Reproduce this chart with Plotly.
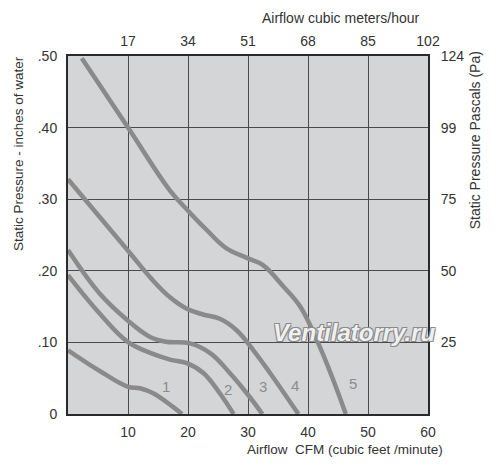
import plotly.graph_objects as go

# fan curves: airflow in CFM vs static pressure in inches of water
cfm_1 = [0, 5.3, 10, 12, 14.2, 17.5, 19]
sp_1 = [0.089, 0.060, 0.038, 0.036, 0.029, 0.010, 0]

cfm_2 = [0, 5.2, 9.9, 13.5, 17, 19.8, 22.6, 25.3, 27.6]
sp_2 = [0.194, 0.141, 0.101, 0.086, 0.076, 0.071, 0.057, 0.029, 0]

cfm_3 = [0, 5.2, 9.9, 13.6, 16.3, 20.2, 23.7, 27, 29.8, 32.4]
sp_3 = [0.229, 0.169, 0.131, 0.108, 0.101, 0.099, 0.085, 0.057, 0.029, 0]

cfm_4 = [0, 9.9, 14, 17, 19.8, 22.5, 25.3, 28.1, 30.9, 33.7, 38.4]
sp_4 = [0.328, 0.229, 0.188, 0.163, 0.147, 0.139, 0.133, 0.117, 0.089, 0.057, 0]

cfm_5 = [2.3, 10, 17, 20, 23, 26.3, 29.8, 32.5, 35.9, 38.7, 41.7, 44, 46.3]
sp_5 = [0.497, 0.400, 0.312, 0.284, 0.258, 0.232, 0.218, 0.208, 0.178, 0.150, 0.099, 0.052, 0]

curve_names = ["1", "2", "3", "4", "5"]
label_x = [16.3, 26.7, 32.5, 37.8, 47.5]
label_y = [0.038, 0.034, 0.038, 0.040, 0.042]

cfm_ticks = [10, 20, 30, 40, 50, 60]
m3h_labels = ["17", "34", "51", "68", "85", "102"]
inch_ticks = [0, 0.1, 0.2, 0.3, 0.4, 0.5]
inch_labels = ["0", ".10", ".20", ".30", ".40", ".50"]
pa_ticks = [0.1, 0.2, 0.3, 0.4, 0.5]
pa_labels = ["25", "50", "75", "99", "124"]

curve_color = "#8a8a8a"
txt = "#333333"
font = "Liberation Sans"

fig = go.Figure()

curves = [(cfm_1, sp_1), (cfm_2, sp_2), (cfm_3, sp_3), (cfm_4, sp_4), (cfm_5, sp_5)]
for (xs, ys), name in zip(curves, curve_names):
    fig.add_trace(go.Scatter(
        x=xs, y=ys, mode="lines", name=name,
        line=dict(color=curve_color, width=4.5, shape="spline", smoothing=1.1),
        hoverinfo="skip",
    ))

# invisible trace so the top and right axes get drawn
fig.add_trace(go.Scatter(x=[0, 60], y=[0, 0.5], xaxis="x2", yaxis="y2",
                         mode="markers", marker=dict(opacity=0), hoverinfo="skip"))

axis_common = dict(showline=True, linecolor="#2a2a2a", linewidth=2, ticks="",
                   tickfont=dict(family=font, size=14, color=txt), zeroline=False)

# the page body has an 8px margin, so the figure is 8px smaller than the window
fig.update_layout(
    width=492, height=461,
    margin=dict(l=60, r=72, t=48, b=55),
    paper_bgcolor="white",
    plot_bgcolor="#d4d5d7",
    showlegend=False,
    xaxis=dict(range=[0, 60], tickvals=cfm_ticks, showgrid=True,
               gridcolor="#4a4a4a", gridwidth=1, mirror=True,
               ticklabelstandoff=4, **axis_common),
    yaxis=dict(range=[0, 0.5], tickvals=inch_ticks, ticktext=inch_labels,
               showgrid=True, gridcolor="#4a4a4a", gridwidth=1, mirror=True,
               ticklabelstandoff=6, **axis_common),
    xaxis2=dict(range=[0, 60], tickvals=cfm_ticks, ticktext=m3h_labels,
                overlaying="x", side="top", showgrid=False,
                ticklabelstandoff=2, **axis_common),
    yaxis2=dict(range=[0, 0.5], tickvals=pa_ticks, ticktext=pa_labels,
                overlaying="y", side="right", showgrid=False,
                ticklabelstandoff=8, **axis_common),
)

for name, lx, ly in zip(curve_names, label_x, label_y):
    fig.add_annotation(x=lx, y=ly, text=name, showarrow=False,
                       font=dict(family=font, size=15, color="#8c8c8c"))

def title(text, x, y, angle=0, size=14):
    fig.add_annotation(xref="paper", yref="paper", x=x, y=y, textangle=angle,
                       xanchor="center", yanchor="middle", text=text,
                       showarrow=False, font=dict(family=font, size=size, color=txt))

title("Static Pressure - inches of water", -0.139, 0.729, -90, 13.5)
title("Static Pressure Pascals (Pa)", 1.131, 0.765, -90, 14)
title("Airflow cubic meters/hour", 0.758, 1.106, 0, 14)
title("Airflow  CFM (cubic feet /minute)", 0.77, -0.10, 0, 13.5)

# watermark
fig.add_annotation(xref="paper", yref="paper", x=0.797, y=0.229,
                   xanchor="center", yanchor="middle",
                   text="<b><i>Ventilatorry.ru</i></b>", showarrow=False,
                   font=dict(family=font, size=24, color="#f0f0f0",
                             shadow="1px 1px 0 #8a8a8a, -1px -1px 0 #8a8a8a, 1px -1px 0 #8a8a8a, -1px 1px 0 #8a8a8a"))

fig.write_html("out.html")
